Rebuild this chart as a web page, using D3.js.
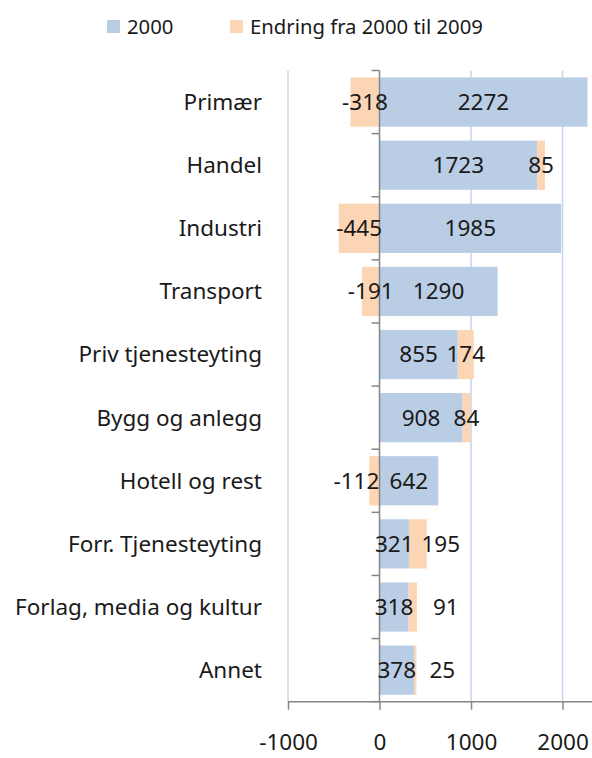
<!DOCTYPE html>
<html>
<head>
<meta charset="utf-8">
<script src="https://cdn.jsdelivr.net/npm/d3@7"></script>
<style>
  body { margin: 0; background: #fff; }
  svg text { font-family: "Noto Sans", sans-serif; fill: #1a1a1a; }
</style>
</head>
<body>
<div id="chart"></div>
<script>
  var categories = ["Primær", "Handel", "Industri", "Transport", "Priv tjenesteyting",
                    "Bygg og anlegg", "Hotell og rest", "Forr. Tjenesteyting",
                    "Forlag, media og kultur", "Annet"];
  var values2000 = [2272, 1723, 1985, 1290, 855, 908, 642, 321, 318, 378];
  var change = [-318, 85, -445, -191, 174, 84, -112, 195, 91, 25];
  var xTicks = [-1000, 0, 1000, 2000];
  var seriesNames = ["2000", "Endring fra 2000 til 2009"];

  var width = 592, height = 758;
  var colors = ["#b9cde5", "#fcd5b5"];

  var svg = d3.select("#chart").append("svg")
      .attr("width", width)
      .attr("height", height);

  var x = d3.scaleLinear()
      .domain([-1000, 2300])
      .range([288, 590]);

  var y = d3.scaleBand()
      .domain(categories)
      .range([70.5, 701.7])
      .paddingInner(0.22)
      .paddingOuter(0.11);

  // gridlines
  svg.append("g")
    .selectAll("line")
    .data(xTicks.filter(d => d != 0))
    .join("line")
      .attr("x1", d => x(d)).attr("x2", d => x(d))
      .attr("y1", 70.5).attr("y2", 701.7)
      .attr("stroke", "#c5d5ea")
      .attr("stroke-width", 1.5);

  var rows = categories.map((c, i) => ({cat: c, base: values2000[i], chg: change[i]}));

  // 2000 bars
  svg.append("g")
    .selectAll("rect")
    .data(rows)
    .join("rect")
      .attr("x", x(0))
      .attr("y", d => y(d.cat))
      .attr("width", d => x(d.base) - x(0))
      .attr("height", y.bandwidth())
      .attr("fill", colors[0]);

  // change bars (negative from 0, positive stacked on top of 2000)
  var chgStart = d => d.chg < 0 ? d.chg : d.base;
  var chgEnd = d => d.chg < 0 ? 0 : d.base + d.chg;

  svg.append("g")
    .selectAll("rect")
    .data(rows)
    .join("rect")
      .attr("x", d => x(chgStart(d)))
      .attr("y", d => y(d.cat))
      .attr("width", d => x(chgEnd(d)) - x(chgStart(d)))
      .attr("height", y.bandwidth())
      .attr("fill", colors[1]);

  // zero axis with category ticks
  svg.append("line")
      .attr("x1", x(0)).attr("x2", x(0))
      .attr("y1", 70.5).attr("y2", 701.7)
      .attr("stroke", "#868686")
      .attr("stroke-width", 1.5);

  var bounds = categories.map(c => y(c) - y.step() * y.paddingInner() / 2).concat([701.7]);
  svg.append("g")
    .selectAll("line")
    .data(bounds)
    .join("line")
      .attr("x1", x(0) - 8).attr("x2", x(0))
      .attr("y1", d => d).attr("y2", d => d)
      .attr("stroke", "#868686")
      .attr("stroke-width", 1.5);

  // bottom axis
  var xAxis = d3.axisBottom(x)
      .tickValues(xTicks)
      .tickSize(8)
      .tickPadding(24)
      .tickFormat(d => d);

  svg.append("g")
      .attr("transform", "translate(0,701.7)")
      .call(xAxis)
      .call(g => g.select(".domain").attr("d", "M288,0H592").attr("stroke", "#868686").attr("stroke-width", 1.5))
      .call(g => g.selectAll(".tick line").attr("stroke", "#868686").attr("stroke-width", 1.5))
      .call(g => g.selectAll(".tick text")
        .attr("font-family", "Noto Sans, sans-serif")
        .attr("font-size", "22.5px")
        .attr("fill", "#1a1a1a"));

  // category labels
  svg.append("g")
    .selectAll("text")
    .data(categories)
    .join("text")
      .attr("x", 262)
      .attr("y", d => y(d) + y.bandwidth() / 2)
      .attr("dy", "0.35em")
      .attr("text-anchor", "end")
      .attr("font-size", "22.5px")
      .text(d => d);

  // value labels (some change labels were moved aside in the original)
  var nudge = {"Hotell og rest": -18, "Forr. Tjenesteyting": 23, "Forlag, media og kultur": 33, "Annet": 27};

  svg.append("g")
    .selectAll("text")
    .data(rows)
    .join("text")
      .attr("x", d => (x(0) + x(d.base)) / 2)
      .attr("y", d => y(d.cat) + y.bandwidth() / 2)
      .attr("dy", "0.35em")
      .attr("text-anchor", "middle")
      .attr("font-size", "22.5px")
      .text(d => d.base);

  svg.append("g")
    .selectAll("text")
    .data(rows)
    .join("text")
      .attr("x", d => (x(chgStart(d)) + x(chgEnd(d))) / 2 + (nudge[d.cat] || 0))
      .attr("y", d => y(d.cat) + y.bandwidth() / 2)
      .attr("dy", "0.35em")
      .attr("text-anchor", "middle")
      .attr("font-size", "22.5px")
      .text(d => d.chg);

  // legend
  var legendX = [107, 230];
  var legend = svg.append("g")
    .selectAll("g")
    .data(seriesNames)
    .join("g")
      .attr("transform", (d, i) => `translate(${legendX[i]},20)`);

  legend.append("rect")
      .attr("width", 13)
      .attr("height", 13)
      .attr("fill", (d, i) => colors[i]);

  legend.append("text")
      .attr("x", 20)
      .attr("y", 7)
      .attr("dy", "0.35em")
      .attr("font-size", "20.3px")
      .text(d => d);
</script>
</body>
</html>
